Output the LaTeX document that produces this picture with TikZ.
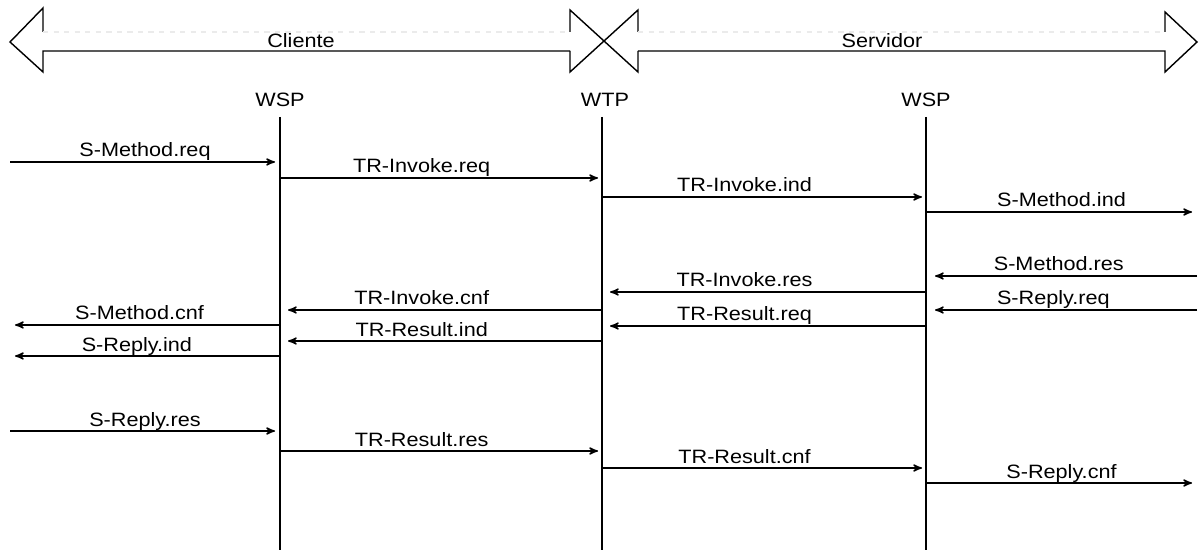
\documentclass[tikz,border=0pt]{standalone}
\usepackage{fontspec}
\setmainfont{Liberation Sans}[FakeStretch=1.12]
\usepackage{tikz}
\usetikzlibrary{arrows}
\newcommand{\lblfont}{\fontsize{11}{13}\selectfont}
\tikzset{
	lifeline/.style = {line width=0.8pt},
	msg/.style = {line width=0.8pt, ->, >=stealth'},
	lbl/.style = {anchor=base, yshift=0.1cm, inner sep=0pt, font=\lblfont},
	entity/.style = {anchor=base, inner sep=0pt, font=\lblfont},
	band/.style = {line width=0.8pt, line join=miter},
	faint/.style = {black!8, line width=0.6pt, dashed}
}

\begin{document}
\begin{tikzpicture} [x = 0.02cm, y = -0.02cm]
	\useasboundingbox (0,0) rectangle (1200,550);
	% Cliente / Servidor band
	\draw[band] (570,51) -- (43,51) -- (43,72) -- (10,42) -- (43,8) -- (43,32);
	\draw[faint] (43,32) -- (570,32);
	\draw[band] (570,32) -- (570,10) -- (638,72) -- (638,51);
	\draw[band] (570,51) -- (570,72) -- (638,10) -- (638,32);
	\draw[band] (638,51) -- (1165,51) -- (1165,72) -- (1197,42) -- (1165,12) -- (1165,32);
	\draw[faint] (638,32) -- (1165,32);
	\node[entity] (cliente) at (301,48) {Cliente};
	\node[entity] (servidor) at (882,48) {Servidor};
	% entities and lifelines
	\node[entity] (cl) at (280,107) {WSP};
	\node[entity] (tp) at (605,107) {WTP};
	\node[entity] (sv) at (926,107) {WSP};
	\coordinate (cl-top) at (280,117);
	\coordinate (tp-top) at (602,117);
	\coordinate (sv-top) at (926,117);
	\draw[lifeline] (cl-top) -- (cl-top |- 0,550);
	\draw[lifeline] (tp-top) -- (tp-top |- 0,550);
	\draw[lifeline] (sv-top) -- (sv-top |- 0,550);
	\coordinate (lft) at (10,0);
	\coordinate (rgt) at (1197,0);
	% method invocation
	\draw[msg, shorten >=0.1cm] (lft |- 0,162) -- (cl-top |- 0,162) node[lbl, midway] {S-Method.req};
	\draw[msg, shorten >=0.08cm] (cl-top |- 0,178) -- (tp-top |- 0,178) node[lbl, pos=.44] {TR-Invoke.req};
	\draw[msg, shorten >=0.08cm] (tp-top |- 0,197) -- (sv-top |- 0,197) node[lbl, pos=.44] {TR-Invoke.ind};
	\draw[msg, shorten >=0.1cm] (sv-top |- 0,212) -- (rgt |- 0,212) node[lbl, midway] {S-Method.ind};
	% response and reply
	\draw[msg, shorten >=0.18cm] (rgt |- 0,276) -- (sv-top |- 0,276) node[lbl, pos=.51] {S-Method.res};
	\draw[msg, shorten >=0.16cm] (sv-top |- 0,292) -- (tp-top |- 0,292) node[lbl, pos=.56] {TR-Invoke.res};
	\draw[msg, shorten >=0.18cm] (rgt |- 0,310) -- (sv-top |- 0,310) node[lbl, pos=.53] {S-Reply.req};
	\draw[msg, shorten >=0.16cm] (tp-top |- 0,310) -- (cl-top |- 0,310) node[lbl, pos=.56] {TR-Invoke.cnf};
	\draw[msg, shorten >=0.16cm] (sv-top |- 0,326) -- (tp-top |- 0,326) node[lbl, pos=.56] {TR-Result.req};
	\draw[msg, shorten >=0.1cm] (cl-top |- 0,325) -- (lft |- 0,325) node[lbl, pos=.52] {S-Method.cnf};
	\draw[msg, shorten >=0.16cm] (tp-top |- 0,341) -- (cl-top |- 0,341) node[lbl, pos=.56] {TR-Result.ind};
	\draw[msg, shorten >=0.1cm] (cl-top |- 0,356) -- (lft |- 0,356) node[lbl, pos=.53] {S-Reply.ind};
	% reply confirmation
	\draw[msg, shorten >=0.1cm] (lft |- 0,431) -- (cl-top |- 0,431) node[lbl, midway] {S-Reply.res};
	\draw[msg, shorten >=0.08cm] (cl-top |- 0,451) -- (tp-top |- 0,451) node[lbl, pos=.44] {TR-Result.res};
	\draw[msg, shorten >=0.08cm] (tp-top |- 0,468) -- (sv-top |- 0,468) node[lbl, pos=.44] {TR-Result.cnf};
	\draw[msg, shorten >=0.1cm] (sv-top |- 0,483) -- (rgt |- 0,483) node[lbl, midway] {S-Reply.cnf};
\end{tikzpicture}
\end{document}
